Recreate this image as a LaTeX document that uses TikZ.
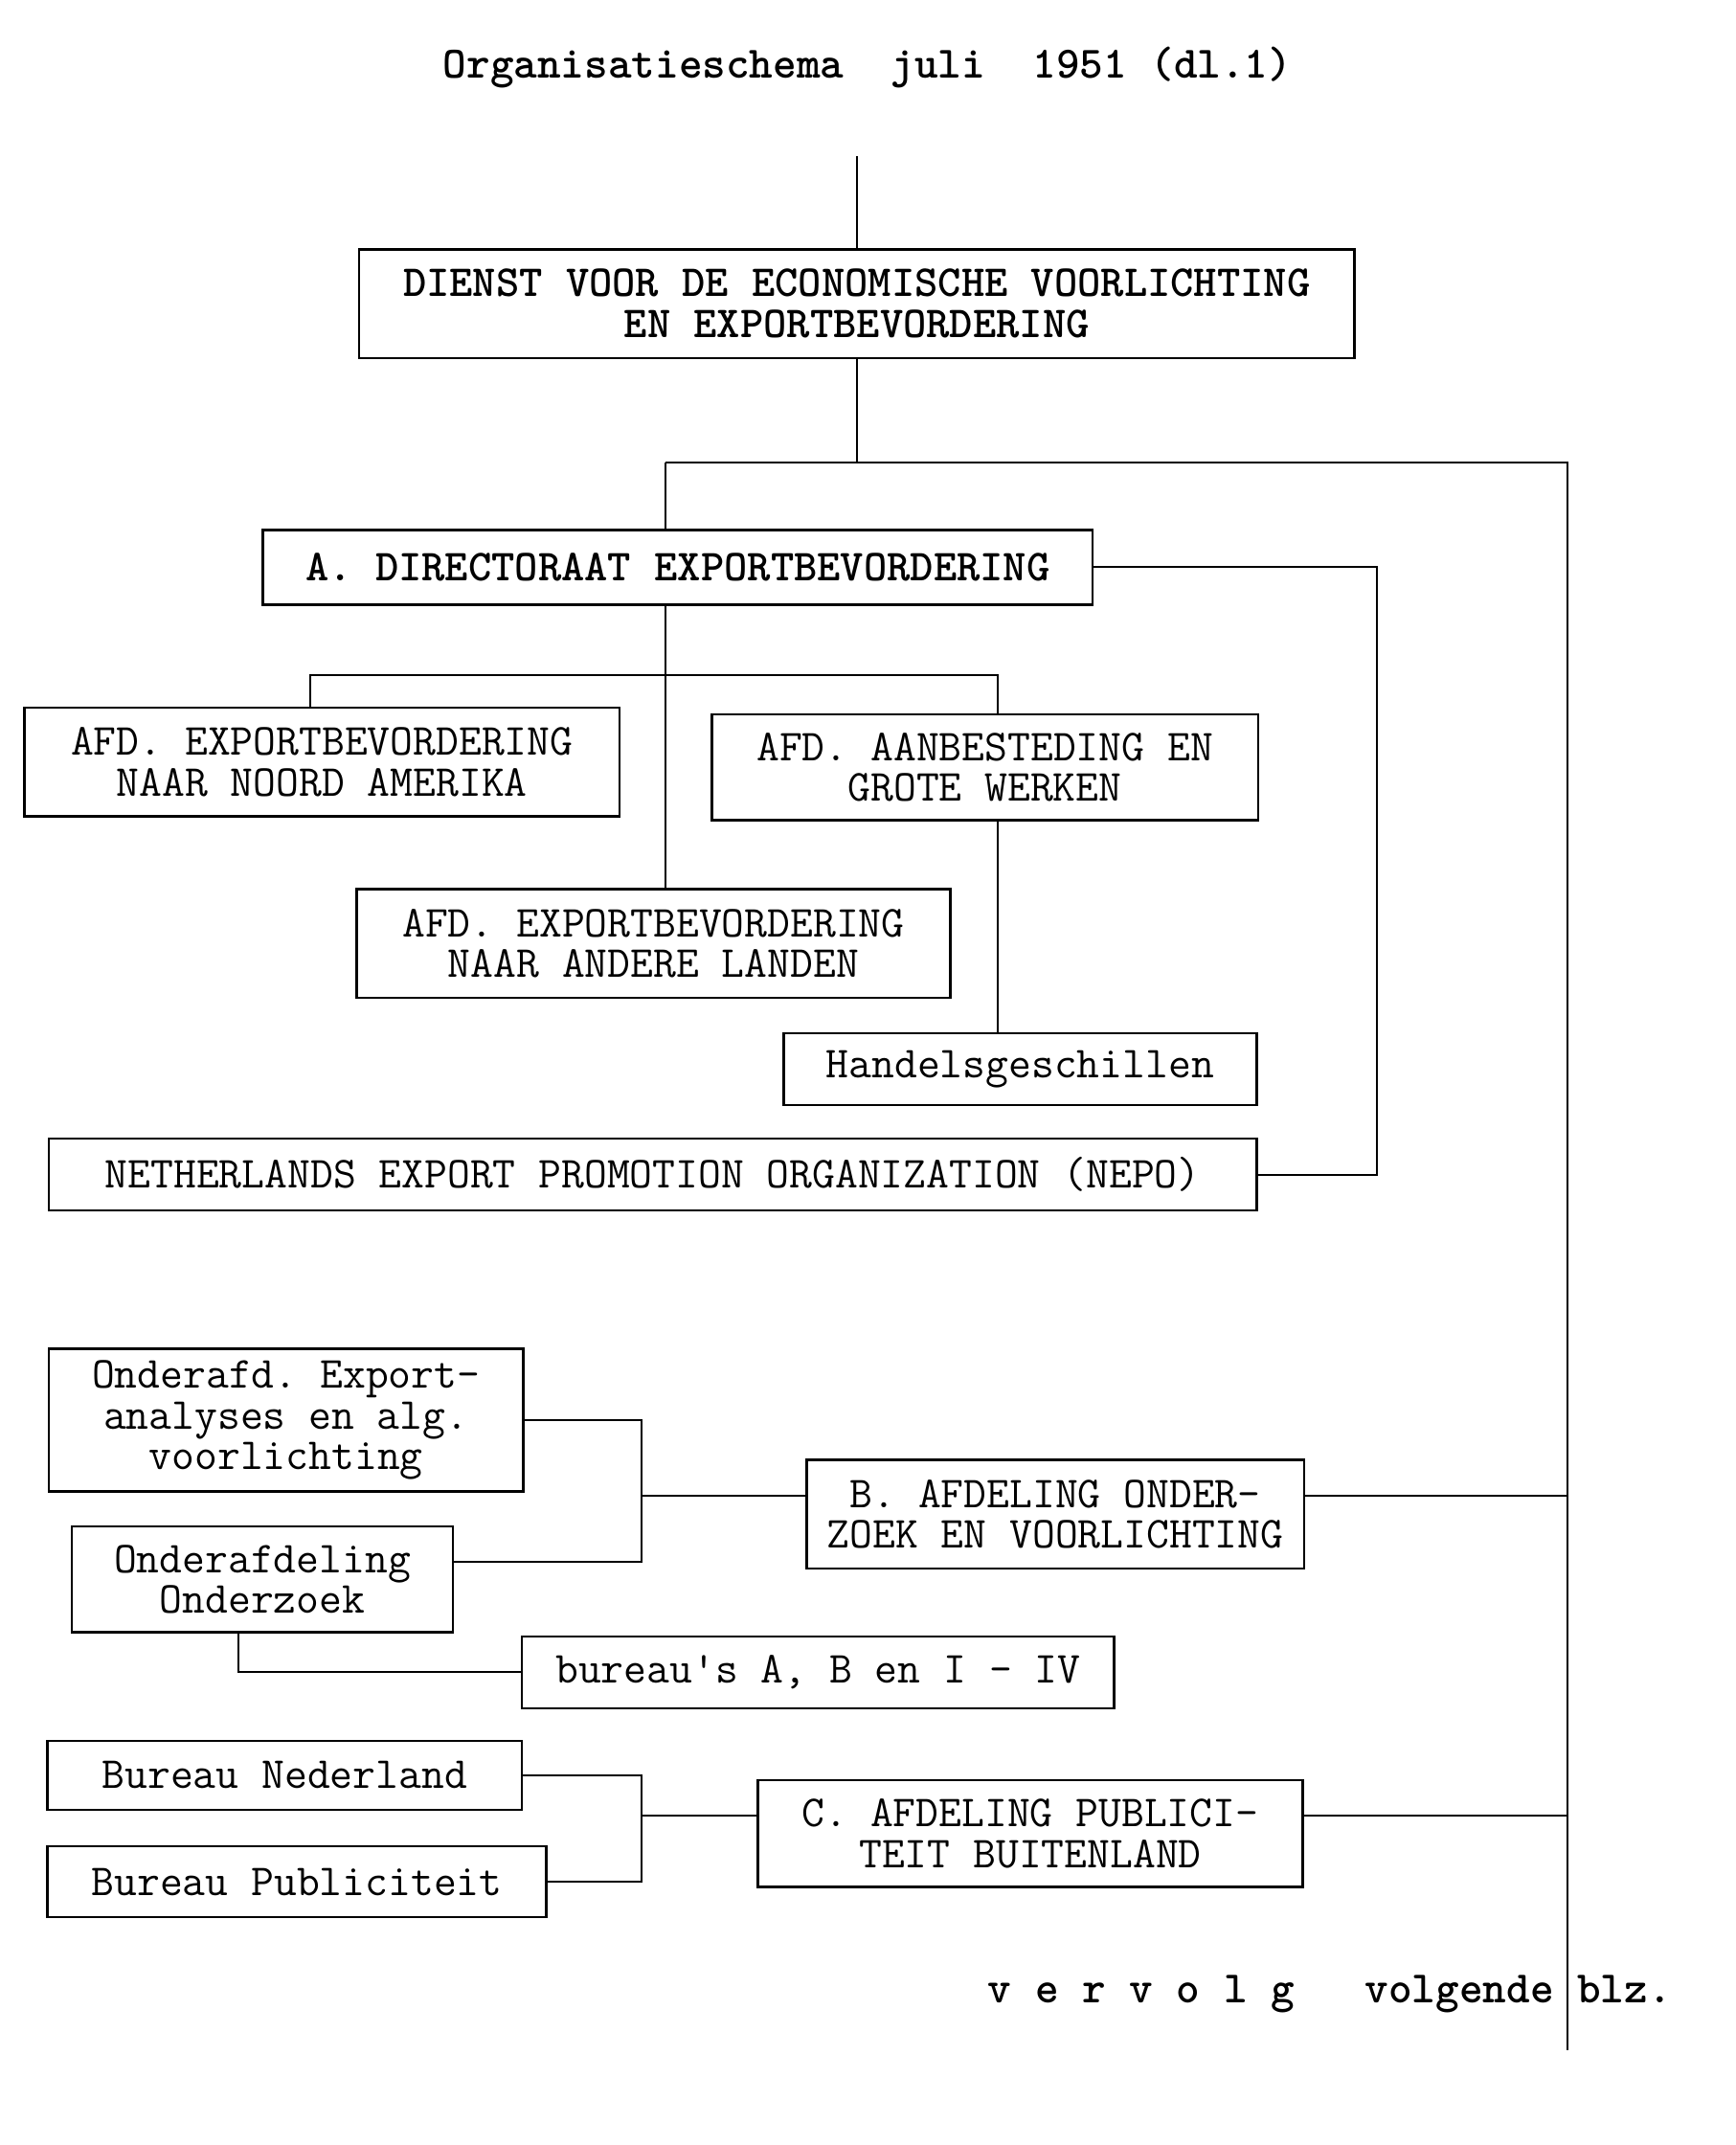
\documentclass[tikz,border=0pt]{standalone}
\usepackage{fontspec}

\begin{document}
\begin{tikzpicture}[
		every node/.style={font=\ttfamily\fontsize{18.6}{17.1}\selectfont\frenchspacing},
		vet/.style={font=\ttfamily\bfseries\fontsize{18.6}{17.1}\selectfont\frenchspacing},
		regel/.style={font=\ttfamily\bfseries\fontsize{18.85}{17.1}\selectfont\frenchspacing},
		kader/.style={draw, line width=1pt, align=center, inner sep=0pt},
		lijn/.style={line width=0.8pt}]
		\useasboundingbox (0,0) rectangle (25.6,-31.645);
		% titel
		\node[regel] (titel) at (12.8,-1.0) {Organisatieschema\ \ juli\ \ 1951 (dl.1)};
		% Dienst
		\node[kader, vet, minimum width=14.68cm, minimum height=1.6cm] (dienst) at (12.64,-4.48) {DIENST VOOR DE ECONOMISCHE VOORLICHTING\\EN EXPORTBEVORDERING};
		% Directoraat A
		\node[kader, vet, minimum width=12.24cm, minimum height=1.1cm] (dira) at (10.0,-8.37) {A. DIRECTORAAT EXPORTBEVORDERING};
		\node[kader, minimum width=8.78cm, minimum height=1.6cm] (noord) at (4.75,-11.24) {AFD. EXPORTBEVORDERING\\NAAR NOORD AMERIKA};
		\node[kader, minimum width=8.06cm, minimum height=1.56cm] (aanb) at (14.53,-11.32) {AFD. AANBESTEDING EN\\GROTE WERKEN};
		\node[kader, minimum width=8.76cm, minimum height=1.6cm] (andere) at (9.64,-13.92) {AFD. EXPORTBEVORDERING\\NAAR ANDERE LANDEN};
		\node[kader, minimum width=6.98cm, minimum height=1.06cm] (handels) at (15.05,-15.77) {Handelsgeschillen};
		\node[kader, minimum width=17.82cm, minimum height=1.06cm] (nepo) at (9.63,-17.33) {NETHERLANDS EXPORT PROMOTION ORGANIZATION (NEPO)};
		% Afdeling B
		\node[kader, minimum width=7.0cm, minimum height=2.1cm] (exp) at (4.22,-20.95) {Onderafd. Export-\\analyses en alg.\\voorlichting};
		\node[kader, minimum width=5.62cm, minimum height=1.56cm] (onderzoek) at (3.87,-23.3) {Onderafdeling\\Onderzoek};
		\node[kader, minimum width=8.74cm, minimum height=1.06cm] (bureaus) at (12.07,-24.67) {bureau's A, B en I - IV};
		\node[kader, minimum width=7.34cm, minimum height=1.6cm] (bafd) at (15.57,-22.34) {B. AFDELING ONDER-\\ZOEK EN VOORLICHTING};
		% Afdeling C
		\node[kader, minimum width=7.0cm, minimum height=1.02cm] (ned) at (4.2,-26.19) {Bureau Nederland};
		\node[kader, minimum width=7.36cm, minimum height=1.04cm] (pub) at (4.38,-27.76) {Bureau Publiciteit};
		\node[kader, minimum width=8.04cm, minimum height=1.58cm] (cafd) at (15.2,-27.05) {C. AFDELING PUBLICI-\\TEIT BUITENLAND};
		% vervolg
		\node[regel] (vervolg) at (19.62,-29.42) {v e r v o l g\ \ \ volgende blz.};
		
		% Verbindingen
		\coordinate (top) at (12.64,-2.3);
		\coordinate (split) at (12.64,-6.82);
		\coordinate (aknoop) at (9.82,-6.82);
		\coordinate (rechts) at (23.12,-6.82);
		\coordinate (einde) at (23.12,-30.24);
		\coordinate (nepolijn) at (20.32,-17.33);
		\coordinate (bl) at (4.58,-9.96);
		\coordinate (br) at (14.72,-9.96);
		\coordinate (bk) at (9.46,-22.06);
		\coordinate (bo) at (9.46,-23.04);
		\coordinate (oz) at (3.52,-24.67);
		\coordinate (ck) at (9.46,-26.78);
		\coordinate (co) at (9.46,-27.76);
		\draw[lijn] (top) -- (dienst.north);
		\draw[lijn] (dienst.south) -- (split);
		\draw[lijn] (aknoop) -- (rechts) -- (einde);
		\draw[lijn] (aknoop) -- (aknoop |- dira.north);
		\draw[lijn] (aknoop |- dira.south) -- (aknoop |- andere.north);
		\draw[lijn] (dira.east) -| (nepolijn) -- (nepo.east);
		\draw[lijn] (bl |- noord.north) -- (bl) -- (br) -- (br |- aanb.north);
		\draw[lijn] (br |- aanb.south) -- (br |- handels.north);
		% B
		\draw[lijn] (exp.east) -| (bo) -- (bo -| onderzoek.east);
		\draw[lijn] (bk) -- (bk -| bafd.west);
		\draw[lijn] (bafd.east |- bk) -- (bk -| rechts);
		\draw[lijn] (oz |- onderzoek.south) -- (oz) -- (bureaus.west);
		% C
		\draw[lijn] (ned.east) -| (co) -- (pub.east);
		\draw[lijn] (ck) -- (ck -| cafd.west);
		\draw[lijn] (cafd.east |- ck) -- (ck -| rechts);
		
\end{tikzpicture}
\end{document}
